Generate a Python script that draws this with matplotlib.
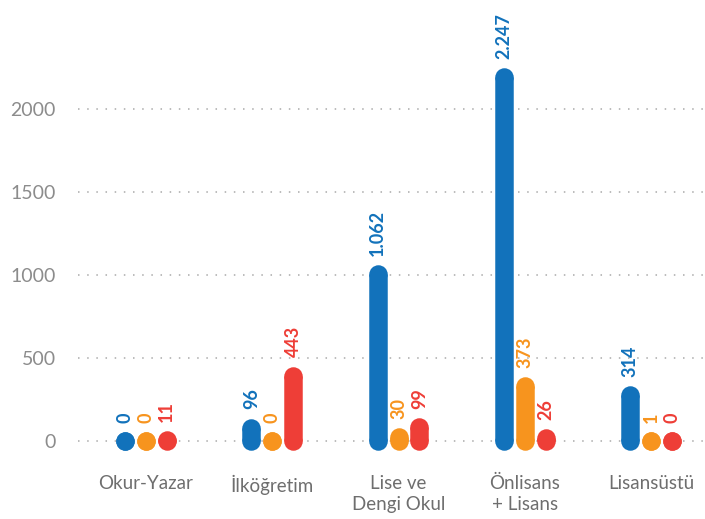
import matplotlib
matplotlib.use("Agg")
import matplotlib.pyplot as plt

categories = ["Okur-Yazar", "İlköğretim", "Lise ve\nDengi Okul", "Önlisans\n+ Lisans", "Lisansüstü"]
blue_vals = [0, 96, 1062, 2247, 314]
orange_vals = [0, 0, 30, 373, 1]
red_vals = [11, 443, 99, 26, 0]
yticks = [0, 500, 1000, 1500, 2000]

colors = ["#1272bb", "#f7941e", "#ee3e37"]
series = [blue_vals, orange_vals, red_vals]

plt.rcParams['font.family'] = ['Lato', 'DejaVu Sans']

W, H = 705, 519
fig = plt.figure(figsize=(W / 100, H / 100), dpi=100)
# axes in pixel terms: left 78px, top 0px, bottom at 460px
ax = fig.add_axes([78 / W, (H - 460) / H, 1 - 78 / W, 460 / H])

px_per_unit = 0.166
ax.set_ylim((441 - 460) / px_per_unit, 441 / px_per_unit)
xpx = 126.25
ax.set_xlim((78 - 146) / xpx, (705 - 146) / xpx)

for y in yticks:
    ax.axhline(y, color="#aaaaaa", lw=1.1, ls=(0, (1, 5)), zorder=0)

bar_px = 18.5
r = (bar_px / 2) / px_per_unit  # cap radius in data units
offset = 20.8 / xpx
lw_pt = bar_px * 72 / 100

def fmt(v):
    return f"{v:,}".replace(",", ".")

for i, (vals, col) in enumerate(zip(series, colors)):
    for j, v in enumerate(vals):
        x = j + (i - 1) * offset
        top = v + max(0, 50 - 0.1 * v)
        top = max(top, r)
        y1 = top - r
        # rounded ends drawn as circle markers, body as a butt-capped line
        ax.scatter([x, x], [0, y1], s=lw_pt ** 2, color=col, lw=0, zorder=2)
        if y1 > 0:
            ax.plot([x, x], [0, y1], color=col, lw=lw_pt,
                    solid_capstyle="butt", zorder=2)
        ax.annotate(fmt(v), (x, top), xytext=(0, 6.5), textcoords="offset points",
                    rotation=90, ha="center", va="bottom", color=col,
                    fontsize=13, fontweight="bold", annotation_clip=False)

ax.set_yticks(yticks)
ax.set_yticklabels([str(t) for t in yticks], fontsize=14, color="#8c8c8c")
ax.tick_params(axis="y", length=0, pad=16)
ax.set_xticks([])
for j, c in enumerate(categories):
    ax.text(j, -205, c, ha="center", va="top", fontsize=13.5, color="#6e6e6e",
            linespacing=1.25, clip_on=False)
for s in ax.spines.values():
    s.set_visible(False)

fig.savefig("out.png", dpi=100)
